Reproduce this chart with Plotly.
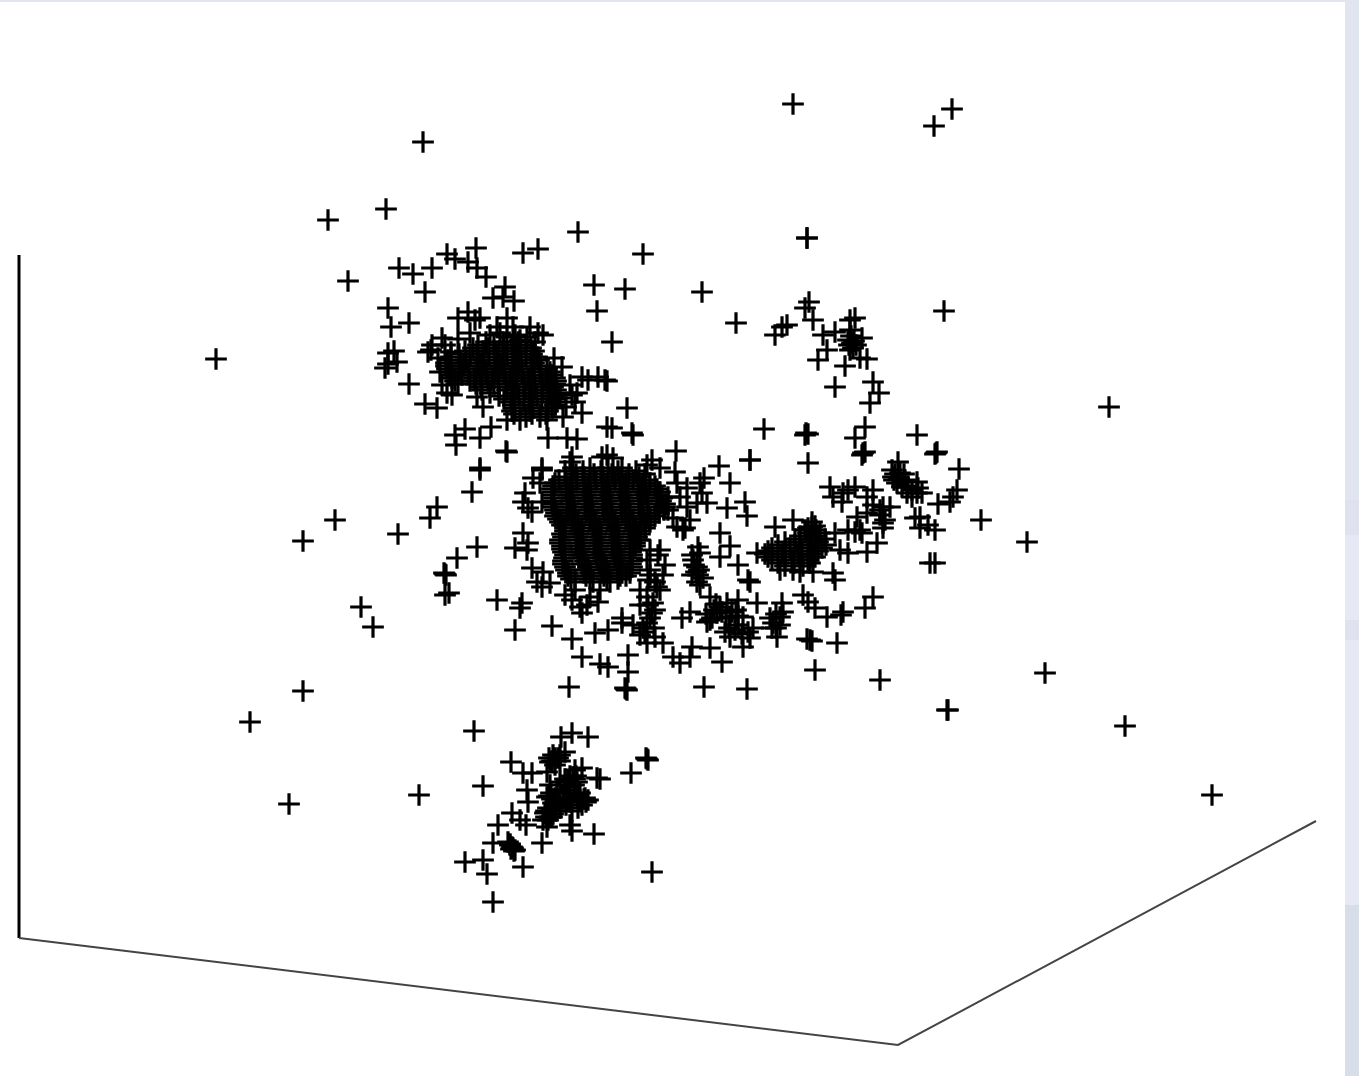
import plotly.graph_objects as go

# Coordinates, one list per visible group of points.
outliers = [(793,104),(952,109),(934,126),(423,142),(386,209),(328,220),(807,238),(807,238),(578,232),(643,254),
 (216,359),(1109,407),(944,311),(736,323),(702,292),(1027,542),(1045,673),(880,680),(947,710),(948,710),(1125,726),(1212,795),
 (981,520),(303,541),(335,520),(398,534),(430,518),(437,507),(472,492),(480,470),(477,547),(457,558),(445,574),(446,575),(444,573),
 (449,593),(445,595),(361,607),(373,627),(303,691),(250,722),(289,804),(419,795),(497,600),(348,281)]

upper_fringe = [(538,249),(523,253),(476,248),(447,254),(455,259),(468,262),(477,268),(486,277),(399,268),(413,274),(432,268),(425,292),
 (505,287),(493,298),(514,301),(503,297),(594,285),(625,289),(597,311),(612,342),(388,308),(391,327),(409,323),(394,351),(388,353),
 (397,362),(385,368),(388,364),(409,384),(425,404),(437,408),(452,395),(447,393),(627,408),(607,427),(612,428),(633,435),(632,433),
 (465,429),(455,435),(456,445),(480,438),(491,427),(506,451),(548,438),(567,438),(577,439),(480,468),(542,468),(468,312),(458,318),
 (480,318),(475,320),(442,338),(432,345),(428,352),(431,350),(507,318),(497,327),(513,327),(530,327),(538,333),(543,335),(527,337),
 (507,337),(490,335),(520,340),(554,358),(562,367),(582,377),(588,380),(605,380),(607,381),(598,377),(577,393),(582,413),(563,417),
 (547,420),(520,420),(507,420),(483,407),(477,397),(570,385),(575,402),(560,398),(445,345),(451,352),(438,358),(440,372),(442,385),
 (458,339),(470,333),(500,333),(515,335),(535,342),(572,395),(566,407)]

upper_blob_rows = {
 342:[486,503,518], 345:[478,494,512,526], 348:[473,488,504,520,531], 351:[465,483,499,516,534], 354:[459,477,496,514,532],
 357:[451,470,489,507,526,537], 360:[448,466,484,503,521,539], 363:[446,461,480,498,516,534], 366:[446,464,483,501,519,541],
 369:[447,459,477,495,513,531,547], 372:[449,468,486,504,522,540,550], 375:[451,462,480,498,516,534,552],
 378:[452,474,492,510,528,546,555], 381:[455,470,488,506,524,542,556], 384:[458,476,494,512,530,548,555],
 387:[481,499,517,535,553], 390:[482,507,525,543,556], 393:[490,514,532,550,557], 396:[499,519,537,554], 399:[504,524,542,556],
 402:[511,529,548,556], 405:[513,531,555], 408:[515,533,552], 411:[512,530,548], 414:[514,532,546], 417:[526,540],
}

main_fringe = [(507,452),(676,451),(750,460),(719,466),(704,478),(700,483),(702,493),(730,483),(745,502),(727,508),(747,516),(707,503),
 (572,457),(570,462),(607,455),(602,457),(613,458),(652,460),(647,465),(660,468),(675,472),(677,483),(687,488),(697,503),(687,507),
 (542,470),(533,478),(540,483),(525,493),(523,502),(532,512),(528,508),(542,502),(523,533),(515,548),(528,543),(527,550),(532,568),
 (543,572),(542,587),(537,582),(550,583),(522,603),(520,608),(515,630),(552,626),(572,639),(582,657),(600,664),(608,667),(628,655),
 (628,672),(627,690),(625,688),(626,689),(569,687),(704,687),(747,689),(582,613),(587,605),(580,607),(572,600),(595,633),(608,630),
 (622,618),(622,623),(633,625),(647,623),(647,643),(655,637),(663,643),(673,657),(680,663),(690,657),(710,648),(722,662),(692,647),
 (652,613),(653,603),(647,597),(640,590),(657,587),(663,575),(665,565),(658,555),(647,560),(677,527),(685,528),(690,520),(673,518),
 (683,530),(720,533),(730,546),(698,547),(692,555),(700,553),(720,557),(738,565),(757,553),(775,527),(793,520),(697,567),(698,575),
 (697,582),(696,572),(748,580),(750,582),(682,618),(690,612),(710,597),(720,607),(717,613),(707,622),(727,603),(738,600),(757,603),
 (730,617),(743,617),(730,637),(743,647),(748,632),(753,628),(782,603),(780,617),(777,637),(773,623),(712,618),(736,610),(776,628),
 (565,595),(590,597),(600,590),(575,590),(598,602),(640,605),(650,570),(640,540),(650,550),(668,497),(680,497),(668,510),
 (706,614),(710,620),(714,610),(722,612),(726,618),(732,612),(738,616),(716,604),(725,632),(735,630),(742,634),(750,638),(729,628),
 (738,625),(770,618),(776,614),(783,612),(772,628),(780,625),(694,565),(699,570),(692,575),(703,578),(693,560),(700,585),(650,575),
 (655,582),(660,590),(648,605),(655,610),(650,618),(643,628),(654,628),(640,635),(645,632),(660,550),(648,580)]

main_blob_rows = {
 468:[573,590,608,622], 471:[565,583,601,618,636], 474:[576,594,612,629,645], 477:[566,584,603,621,639],
 480:[559,577,596,615,633,645], 483:[555,572,590,608,626,644,650], 486:[553,570,588,606,624,642,655],
 489:[552,566,584,602,620,638,657], 492:[553,572,590,609,627,645,660], 495:[552,568,586,604,622,640,659],
 498:[554,573,591,610,628,647,662], 501:[552,570,588,606,624,642,661], 504:[553,567,585,603,621,639,657,665],
 507:[553,574,592,611,629,648,665], 510:[555,571,589,607,625,643,664], 513:[556,568,586,604,622,640,659],
 516:[555,575,593,612,630,648,655], 519:[558,572,590,608,626,644,650], 522:[560,578,596,615,633,650],
 525:[562,575,593,611,629,645], 528:[565,582,600,618,636,645], 531:[565,580,598,616,634,640], 534:[562,578,596,614,632,640],
 537:[563,583,601,619,637], 540:[560,577,595,613,631,638], 543:[560,581,599,617,635], 546:[562,576,594,612,630,635],
 549:[562,580,598,616,632], 552:[563,578,596,614,631], 555:[565,583,601,619,632], 558:[564,579,597,615,632],
 561:[563,585,603,621,632], 564:[563,582,600,618,631], 567:[565,588,606,620,632], 570:[566,584,602,618,630],
 573:[568,590,608,622,630], 576:[568,586,604,620,626], 579:[571,590,607,618], 582:[575,593,610],
}

right_group = [(809,302),(805,308),(813,320),(782,327),(775,335),(787,325),(855,318),(850,320),(823,335),(835,332),(862,338),(850,330),
 (852,343),(853,348),(848,340),(827,350),(818,360),(845,366),(867,359),(860,358),(835,387),(873,382),(879,393),(870,403),(764,429),
 (808,434),(806,433),(805,435),(865,427),(855,438),(863,453),(865,452),(862,455),(917,435),(936,453),(937,452),(935,454),(808,463),
 (750,460),(959,469),(898,462),(892,470),(893,477),(900,473),(905,480),(917,482),(897,483),(907,493),(917,493),(912,497),(922,493),
 (830,487),(833,497),(843,493),(855,487),(848,490),(873,490),(867,497),(842,502),(957,490),(938,504),(950,502),(953,497),(880,510),
 (867,513),(857,517),(890,507),(883,507),(920,517),(915,518),(928,525),(920,528),(935,530),(883,528),(883,523),(855,532),(862,533),
 (848,530),(877,543),(867,552),(848,553),(840,550),(835,533),(930,563),(935,563),(833,573),(835,580),(813,572),(873,597),(865,608),
 (841,615),(843,612),(827,617),(815,608),(803,595),(808,602),(810,640),(812,641),(807,639),(837,643),(815,670),
 (895,474),(899,478),(904,474),(902,487),(908,486),(912,490),(894,480),(918,488),(851,336),(854,341),(849,345),(856,345),
 (850,350),(812,522),(815,526),(808,528),(860,530),(880,515),(873,505),(885,520)]

right_blob_rows = {
 527:[812], 530:[805,816], 533:[808,820], 536:[800,815], 539:[795,810,825], 542:[785,800,818], 545:[778,795,812,826],
 548:[772,790,808,822], 551:[768,785,802,818], 554:[765,782,798,812], 557:[768,785,800,815], 560:[772,792,808], 563:[778,794,810],
 566:[785,803], 570:[780,793], 572:[800],
}

lower_group = [(474,731),(561,737),(572,733),(588,737),(565,752),(555,758),(550,762),(511,762),(523,773),(532,773),(547,772),(555,765),
 (582,768),(573,777),(568,780),(600,779),(597,778),(631,773),(647,759),(646,758),(648,760),(483,786),(527,790),(528,802),(557,790),
 (565,790),(555,798),(563,798),(547,797),(585,798),(582,805),(588,800),(552,810),(545,813),(550,817),(543,820),(512,813),(520,820),
 (498,825),(526,825),(547,827),(570,825),(572,831),(594,834),(542,843),(493,843),(510,845),(513,848),(515,850),(483,860),(465,862),
 (487,874),(523,867),(493,902),(652,872),(575,770),(570,787),(560,805),(578,795),(553,803),(560,782),(550,785),(580,800),
 (551,793),(565,793),(580,793),(549,796),(578,796),(552,799),(568,799),(584,799),(556,802),(570,802),(586,802),(566,805),
 (548,808),(560,808),(578,808),(546,811),(556,811),(572,811),(553,814),(546,817),(552,817),(548,820),(570,776),(576,776),
 (565,779),(575,779),(568,782),(577,782),(566,785),(574,785),(553,755),(560,755),(549,758),(558,758),(552,761),(560,761),
 (508,842),(510,844),(512,847),(511,849),(514,851)]

axis_vertical_x = [19, 19]
axis_vertical_y = [255, 938]
axis_floor_x = [19, 898, 1316]
axis_floor_y = [938, 1045, 821]

strip_band_tops = [500, 535, 620, 640, 905]
strip_band_bottoms = [535, 620, 640, 905, 1076]
strip_band_colours = ["#DFE2EE", "#E6E9F4", "#DFE1EE", "#E6E9F4", "#D8DDEA"]

def rows_to_points(rows):
    return [(x, y) for y, xs in rows.items() for x in xs]

points = (outliers + upper_fringe + main_fringe + right_group + lower_group
          + rows_to_points(upper_blob_rows) + rows_to_points(main_blob_rows) + rows_to_points(right_blob_rows))

fig = go.Figure()
fig.add_trace(go.Scatter(x=axis_vertical_x, y=axis_vertical_y, mode="lines",
                         line=dict(color="#000000", width=3), hoverinfo="skip"))
fig.add_trace(go.Scatter(x=axis_floor_x, y=axis_floor_y, mode="lines",
                         line=dict(color="#444444", width=2), hoverinfo="skip"))
fig.add_trace(go.Scatter(x=[p[0] for p in points], y=[p[1] for p in points], mode="markers",
                         marker=dict(symbol="cross-thin", size=15.5, color="#000000",
                                     line=dict(color="#000000", width=3.2))))

for top, bottom, colour in zip(strip_band_tops, strip_band_bottoms, strip_band_colours):
    fig.add_shape(type="rect", xref="paper", yref="paper", x0=1, x1=1.0105,
                  y0=(1076 - bottom) / 1074, y1=(1076 - top) / 1074,
                  fillcolor=colour, line_width=0, layer="below")

fig.update_layout(width=1359, height=1076, showlegend=False,
                  margin=dict(l=0, r=14, t=2, b=0),
                  paper_bgcolor="#E1E5F0", plot_bgcolor="#FFFFFF")
fig.update_xaxes(range=[0, 1345], visible=False, fixedrange=True)
fig.update_yaxes(range=[1076, 2], visible=False, fixedrange=True)

fig.write_html("out.html", config={"displayModeBar": False},
               post_script="document.body.style.margin='0';document.body.style.overflow='hidden';")
